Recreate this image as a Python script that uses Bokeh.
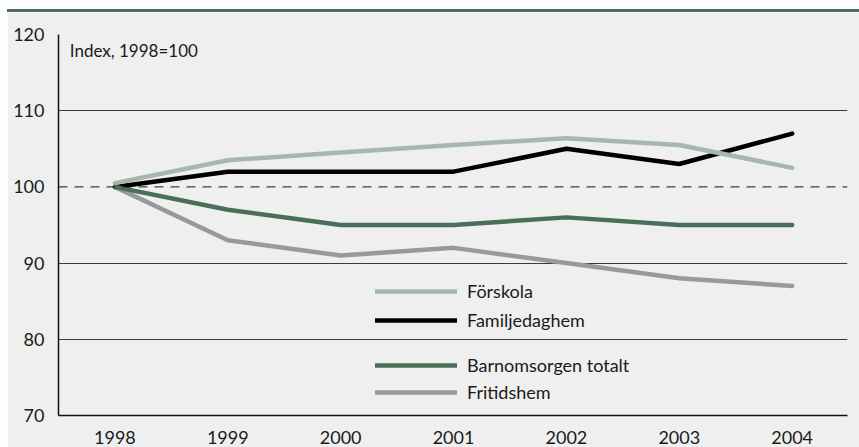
from bokeh.plotting import figure
from bokeh.models import (ColumnDataSource, FixedTicker, Span, Label, Legend,
                          LegendItem, Range1d, Div, Spacer)
from bokeh.layouts import column, row
from bokeh.embed import file_html
from bokeh.resources import INLINE

years = [1998, 1999, 2000, 2001, 2002, 2003, 2004]
forskola = [100.5, 103.5, 104.5, 105.5, 106.4, 105.5, 102.5]
familjedaghem = [100, 102, 102, 102, 105, 103, 107]
barnomsorgen = [100, 97, 95, 95, 96, 95, 95]
fritidshem = [100, 93, 91, 92, 90, 88, 87]
y_ticks = [70, 80, 90, 100, 110, 120]
labels = ["Förskola", "Familjedaghem", "Barnomsorgen totalt", "Fritidshem"]

FONT = "Lato"
BG = "#eeefee"

p = figure(width=852, height=435, output_backend="svg", toolbar_location=None,
           x_range=Range1d(1997.5, 2004.49), y_range=Range1d(70, 120),
           background_fill_color=BG, border_fill_color=BG,
           min_border_left=51, min_border_right=12, min_border_top=22,
           min_border_bottom=32)
p.outline_line_color = None

src = ColumnDataSource(dict(year=years, f=forskola, fam=familjedaghem,
                            b=barnomsorgen, fr=fritidshem))

common = dict(line_width=4.5, line_cap="round", line_join="round")
r_fr = p.line("year", "fr", source=src, line_color="#999999", **common)
r_fam = p.line("year", "fam", source=src, line_color="#000000", **common)
r_f = p.line("year", "f", source=src, line_color="#a5b8ab", **common)
r_b = p.line("year", "b", source=src, line_color="#4b6e58", **common)

# reference line at 100
p.add_layout(Span(location=100, dimension="width", line_color="#111111",
                  line_width=1, line_dash="9 7"), "center")

# axes
p.xaxis.ticker = FixedTicker(ticks=years)
p.yaxis.ticker = FixedTicker(ticks=y_ticks)
for ax in (p.xaxis, p.yaxis):
    ax.axis_line_color = "#111111"
    ax.axis_line_width = 1.5
    ax.major_tick_line_color = None
    ax.minor_tick_line_color = None
    ax.major_label_text_font = FONT
    ax.major_label_text_font_size = "18px"
    ax.major_label_text_color = "#1a1a1a"
p.yaxis.major_label_standoff = 8
p.xaxis.major_label_standoff = 9

p.xgrid.grid_line_color = None
p.ygrid.ticker = FixedTicker(ticks=[80, 90, 110, 120])
p.ygrid.grid_line_color = "#3a3a3a"
p.ygrid.grid_line_width = 1

p.add_layout(Label(x=1997.6, y=119.25, text="Index, 1998=100",
                   text_font=FONT, text_font_size="17px",
                   text_color="#1a1a1a", text_baseline="top"))

leg_style = dict(border_line_color=None, background_fill_alpha=0,
                 label_text_font=FONT, label_text_font_size="18px",
                 label_text_color="#1a1a1a", glyph_width=82, glyph_height=20,
                 label_height=20, label_standoff=10, padding=0, margin=0)
leg1 = Legend(items=[LegendItem(label=labels[0], renderers=[r_f]),
                     LegendItem(label=labels[1], renderers=[r_fam])],
              location=(317, 84), spacing=7, **leg_style)
leg2 = Legend(items=[LegendItem(label=labels[2], renderers=[r_b]),
                     LegendItem(label=labels[3], renderers=[r_fr])],
              location=(317, 12), spacing=5, **leg_style)
p.add_layout(leg1, "center")
p.add_layout(leg2, "center")

rule = Div(text="", width=852, height=3, margin=0,
           styles={"background-color": "#4d6e58"})
layout = row(Spacer(width=7, height=447),
             column(Spacer(width=852, height=9), rule, p, spacing=0),
             spacing=0)

open("out.html", "w").write(file_html(layout, INLINE))
